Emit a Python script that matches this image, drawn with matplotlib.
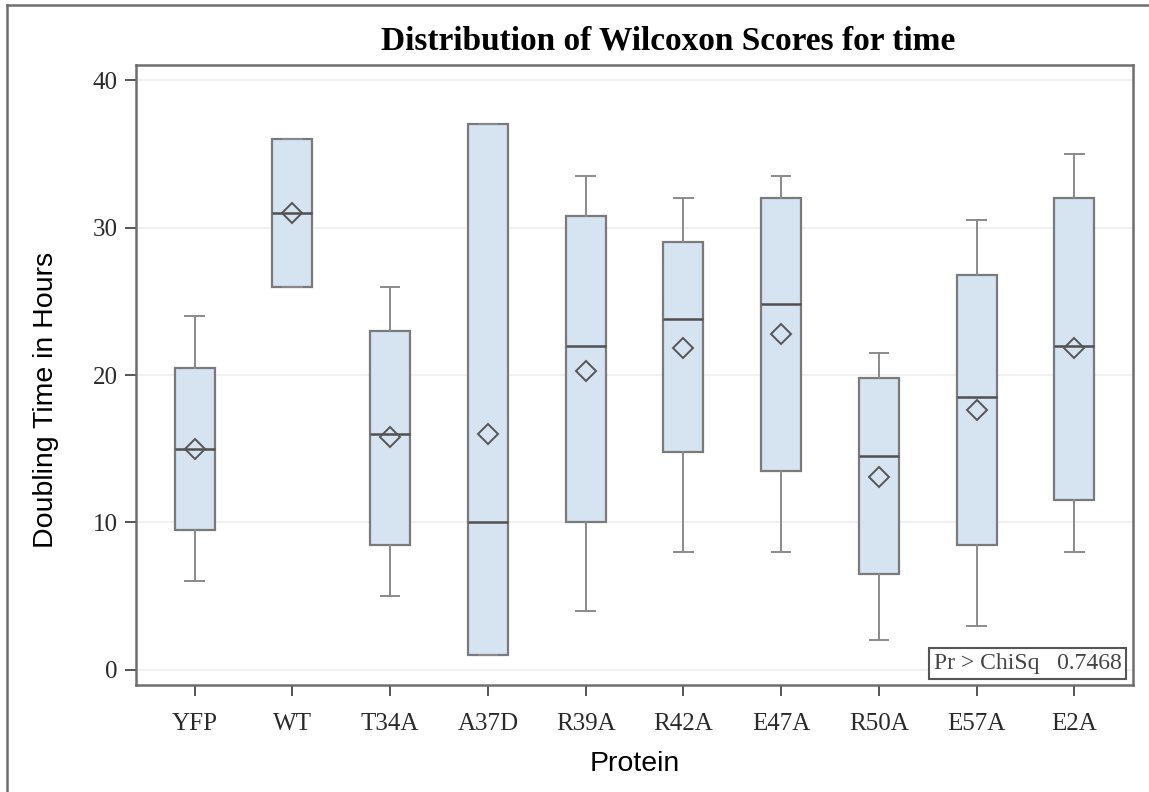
import matplotlib
matplotlib.use("Agg")
import matplotlib.pyplot as plt
from matplotlib.lines import Line2D

# box plot summary
proteins = ["YFP", "WT", "T34A", "A37D", "R39A", "R42A", "E47A", "R50A", "E57A", "E2A"]
whis_lo = [6.0, 26.0, 5.0, 1.0, 4.0, 8.0, 8.0, 2.0, 3.0, 8.0]
q1 = [9.5, 26.0, 8.5, 1.0, 10.0, 14.8, 13.5, 6.5, 8.5, 11.5]
median = [15.0, 31.0, 16.0, 10.0, 22.0, 23.8, 24.8, 14.5, 18.5, 22.0]
q3 = [20.5, 36.0, 23.0, 37.0, 30.8, 29.0, 32.0, 19.8, 26.8, 32.0]
whis_hi = [24.0, 36.0, 26.0, 37.0, 33.5, 32.0, 33.5, 21.5, 30.5, 35.0]
mean = [15.0, 31.0, 15.8, 16.0, 20.3, 21.8, 22.8, 13.1, 17.6, 21.8]
yticks = [0, 10, 20, 30, 40]

serif = "Liberation Serif"
sans = "Liberation Sans"

fig = plt.figure(figsize=(11.49, 7.92), dpi=100)
ax = fig.add_axes([136 / 1149, 1 - 685 / 792, 997 / 1149, 620 / 792])

stats = []
for i in range(len(proteins)):
    stats.append({"label": proteins[i], "whislo": whis_lo[i], "q1": q1[i],
                  "med": median[i], "q3": q3[i], "whishi": whis_hi[i],
                  "mean": mean[i], "fliers": []})

edge = "#7a7a7a"
ax.bxp(stats, positions=range(len(proteins)), widths=0.41, capwidths=0.19,
       patch_artist=True, showmeans=True, showfliers=False,
       boxprops=dict(facecolor="#d6e3f1", edgecolor=edge, linewidth=1.6),
       whiskerprops=dict(color="#8a8a8a", linewidth=1.4),
       capprops=dict(color="#8a8a8a", linewidth=1.4),
       medianprops=dict(color="#505050", linewidth=1.8),
       meanprops=dict(marker="D", markersize=10, markerfacecolor="none",
                      markeredgecolor="#555555", markeredgewidth=1.4))

ax.set_xlim(-0.6, 9.6)
ax.set_ylim(-1.02, 41.02)
ax.set_yticks(yticks)
ax.set_xticks(range(len(proteins)))
ax.set_xticklabels(proteins)
ax.yaxis.grid(True, color="#efefef", linewidth=1.2)
ax.set_axisbelow(True)

for s in ax.spines.values():
    s.set_color("#6e6e6e")
    s.set_linewidth(1.8)
ax.tick_params(axis="both", direction="out", length=8, width=1.4, color="#555555",
               labelsize=18, labelcolor="#2a2a2a")
ax.tick_params(axis="x", pad=12)
ax.tick_params(axis="y", pad=5)
for lab in ax.get_xticklabels() + ax.get_yticklabels():
    lab.set_fontfamily(serif)

ax.set_xlabel("Protein", fontsize=20.5, fontfamily=sans, labelpad=12)
ax.set_ylabel("Doubling Time in Hours", fontsize=20.5, fontfamily=sans)
ax.yaxis.set_label_coords(-0.077, 0.46)

fig.text(668 / 1149, 1 - 41 / 792, "Distribution of Wilcoxon Scores for time",
         fontsize=24, fontweight="bold", fontfamily=serif, ha="center", va="center")

ax.text(0.9885, 0.018, "Pr > ChiSq   0.7468", transform=ax.transAxes, ha="right",
        va="bottom", fontsize=17, fontfamily=serif, color="#444444",
        bbox=dict(boxstyle="square,pad=0.2", facecolor="white",
                  edgecolor="#555555", linewidth=1.5))

# frame of the screenshot: left and top edges only
fig.add_artist(Line2D([7 / 1149, 7 / 1149], [0, 1 - 5 / 792], color="#6e6e6e",
                      linewidth=1.8, transform=fig.transFigure))
fig.add_artist(Line2D([7 / 1149, 1], [1 - 5 / 792, 1 - 5 / 792], color="#6e6e6e",
                      linewidth=1.8, transform=fig.transFigure))

fig.savefig("out.png", dpi=100)
